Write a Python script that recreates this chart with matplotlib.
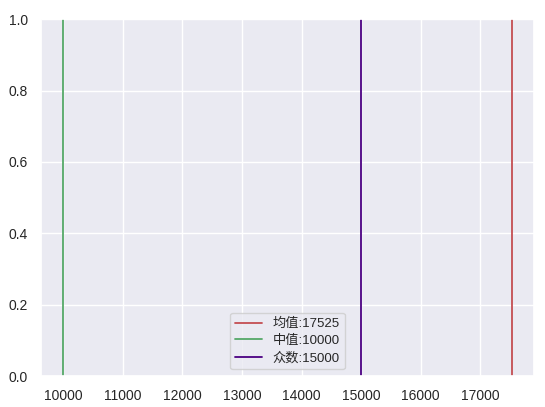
import matplotlib
matplotlib.use("Agg")
import matplotlib.pyplot as plt
import seaborn as sns

# Summary statistics shown as vertical lines
stat_names = ["均值", "中值", "众数"]
stat_values = [17525, 10000, 15000]
stat_colors = ["#c44e52", "#55a868", "indigo"]

sns.set_theme(style="darkgrid")
plt.rcParams['font.family'] = ['Liberation Sans', 'Noto Sans CJK SC', 'DejaVu Sans']
plt.rcParams['axes.unicode_minus'] = False

fig = plt.figure(figsize=(5.45, 4.07), dpi=100)
ax = fig.add_axes([0.075, 0.076, 0.905, 0.877])

for name, val, col in zip(stat_names, stat_values, stat_colors):
    ax.axvline(val, color=col, linewidth=1.3, label=f"{name}:{val}")

ax.set_ylim(0, 1)
ax.tick_params(labelsize=10)
ax.legend(loc="lower center", fontsize=9.5, labelspacing=0.35)

fig.savefig("out.png", dpi=100)
